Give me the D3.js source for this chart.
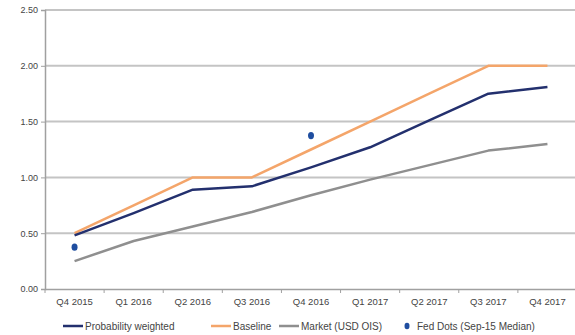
<!DOCTYPE html>
<html><head><meta charset="utf-8">
<script src="https://cdn.jsdelivr.net/npm/d3@7"></script>
<style>
body{margin:0;background:#fff;}
text{font-family:"Liberation Sans",Arial,sans-serif;}
</style></head>
<body><svg id="c" width="575" height="335"></svg>
<script>
const categories = ["Q4 2015","Q1 2016","Q2 2016","Q3 2016","Q4 2016","Q1 2017","Q2 2017","Q3 2017","Q4 2017"];
const probabilityWeighted = [0.48,0.68,0.89,0.92,1.09,1.27,1.51,1.75,1.81];
const baseline = [0.50,0.75,1.00,1.00,1.25,1.50,1.75,2.00,2.00];
const market = [0.25,0.43,0.56,0.69,0.84,0.98,1.11,1.24,1.30];
const fedDots = [{cat:"Q4 2015",v:0.375},{cat:"Q4 2016",v:1.375}];
const yTicks = [0,0.5,1,1.5,2,2.5];

const svg = d3.select("#c");
const m = {l:45, r:0, t:10, b:46};
const x = d3.scaleBand().domain(categories).range([m.l, 577]);
const y = d3.scaleLinear().domain([0,2.5]).range([289, 10]);

// gridlines
svg.append("g").selectAll("line").data(yTicks.filter(d=>d>0)).join("line")
  .attr("x1", m.l).attr("x2", 575).attr("y1", d=>y(d)).attr("y2", d=>y(d))
  .attr("stroke", "#c4c4c4").attr("stroke-width", 2);

// y axis
const ya = svg.append("g").attr("transform", `translate(${m.l},0)`)
  .call(d3.axisLeft(y).tickValues(yTicks).tickFormat(d3.format(".2f")).tickSize(4).tickPadding(3));
ya.select(".domain").attr("stroke","#a0a0a0").attr("stroke-width",1.5);
ya.selectAll(".tick line").attr("stroke","#a0a0a0");
ya.selectAll("text").attr("fill","#444").style("font-size","9px");

// x axis
const xa = svg.append("g").attr("transform", `translate(0,${y(0)})`)
  .call(d3.axisBottom(x).tickSize(0).tickPadding(9));
xa.select(".domain").attr("stroke","#a0a0a0").attr("stroke-width",1.5);
xa.selectAll("text").attr("fill","#444").style("font-size","9.5px");
svg.append("g").selectAll("line").data(categories).join("line")
  .attr("x1", d=>x(d)).attr("x2", d=>x(d)).attr("y1", y(0)).attr("y2", y(0)+4)
  .attr("stroke","#a0a0a0");

const cx = d => x(d) + x.bandwidth()/2;
const line = d3.line().x((d,i)=>cx(categories[i])).y(d=>y(d));

const series = [
  {name:"Market (USD OIS)", data:market, color:"#8f8f8f"},
  {name:"Baseline", data:baseline, color:"#f4a56a"},
  {name:"Probability weighted", data:probabilityWeighted, color:"#23306e"}
];
series.forEach(s=>{
  svg.append("path").attr("d", line(s.data)).attr("fill","none")
    .attr("stroke", s.color).attr("stroke-width", 2.5).attr("stroke-linejoin","round");
});

svg.append("g").selectAll("ellipse").data(fedDots).join("ellipse")
  .attr("cx", d=>cx(d.cat)).attr("cy", d=>y(d.v)).attr("rx",3).attr("ry",3.6)
  .attr("fill","#1f4ea0");

// legend
const lg = svg.append("g").style("font-size","10px");
const items = [
  {name:"Probability weighted", color:"#23306e", x:63, type:"line"},
  {name:"Baseline", color:"#f4a56a", x:211, type:"line"},
  {name:"Market (USD OIS)", color:"#8f8f8f", x:279, type:"line"},
  {name:"Fed Dots (Sep-15 Median)", color:"#1f4ea0", x:405, type:"dot"}
];
const ly = 326;
items.forEach(it=>{
  if(it.type==="line"){
    lg.append("line").attr("x1",it.x).attr("x2",it.x+20).attr("y1",ly).attr("y2",ly)
      .attr("stroke",it.color).attr("stroke-width",2.5);
    lg.append("text").attr("x",it.x+22).attr("y",ly+3.5).attr("fill","#444").text(it.name);
  } else {
    lg.append("ellipse").attr("cx",it.x+2).attr("cy",ly).attr("rx",2.5).attr("ry",3.2).attr("fill",it.color);
    lg.append("text").attr("x",it.x+12).attr("y",ly+3.5).attr("fill","#444").text(it.name);
  }
});
</script></body></html>
